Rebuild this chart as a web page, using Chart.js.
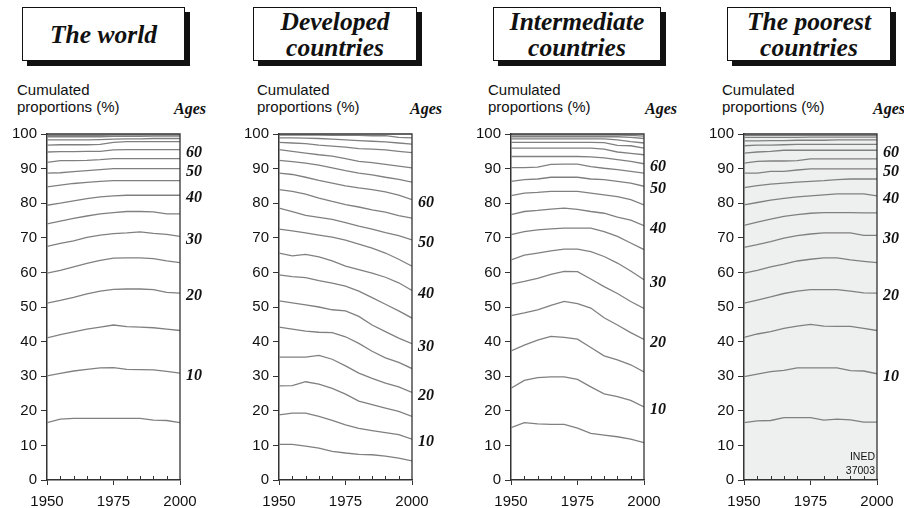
<!DOCTYPE html>
<html>
<head>
<meta charset="utf-8">
<script src="https://cdn.jsdelivr.net/npm/chart.js@4"></script>
<style>
  body{margin:0;width:904px;height:508px;background:#fff;position:relative;overflow:hidden;font-family:"Liberation Sans",Arial,sans-serif;color:#111}
  .box{position:absolute;top:7px;height:54px;border:1px solid #111;background:#fff;box-shadow:5px 5px 0 #111;
       font:italic bold 25.5px "Liberation Serif","Times New Roman",serif;line-height:26px;text-align:center;padding-top:2px;
       display:flex;align-items:center;justify-content:center;box-sizing:border-box}
  .ylab{position:absolute;top:82px;font-size:15px;line-height:16.5px}
  .ages{position:absolute;top:100px;font:italic bold 16px "Liberation Serif","Times New Roman",serif}
  canvas{position:absolute;top:120px}
</style>
</head>
<body>
<div class="box" style="left:22px;width:163px">The world</div>
<div class="box" style="left:253px;width:164px">Developed<br>countries</div>
<div class="box" style="left:493px;width:168px">Intermediate<br>countries</div>
<div class="box" style="left:727px;width:164px">The poorest<br>countries</div>

<div class="ylab" style="left:17px">Cumulated<br>proportions (%)</div>
<div class="ylab" style="left:257px">Cumulated<br>proportions (%)</div>
<div class="ylab" style="left:488px">Cumulated<br>proportions (%)</div>
<div class="ylab" style="left:722px">Cumulated<br>proportions (%)</div>

<div class="ages" style="left:174px">Ages</div>
<div class="ages" style="left:410px">Ages</div>
<div class="ages" style="left:645px">Ages</div>
<div class="ages" style="left:873px">Ages</div>

<canvas id="c1" width="220" height="388" style="left:0px"></canvas>
<canvas id="c2" width="220" height="388" style="left:232px"></canvas>
<canvas id="c3" width="220" height="388" style="left:464px"></canvas>
<canvas id="c4" width="220" height="388" style="left:697px"></canvas>

<script>
// years of observation
const years = [1950, 1955, 1960, 1965, 1970, 1975, 1980, 1985, 1990, 1995, 2000];
const xTicks = [1950, 1975, 2000];
const ageLabels = [10, 20, 30, 40, 50, 60];

// cumulated proportions (%) below ages 5, 10, 15 ... (one row per age)
const world = [
  [16.6, 17.6, 17.8, 17.8, 17.8, 17.8, 17.8, 17.8, 17.3, 17.2, 16.6],
  [30.1, 30.8, 31.5, 32.0, 32.4, 32.5, 32.0, 31.9, 31.8, 31.4, 30.9],
  [41.1, 42.0, 42.8, 43.6, 44.2, 44.8, 44.3, 44.2, 44.0, 43.6, 43.2],
  [51.1, 51.9, 52.8, 53.8, 54.6, 55.1, 55.2, 55.2, 55.0, 54.2, 54.0],
  [59.8, 60.6, 61.6, 62.6, 63.5, 64.1, 64.2, 64.2, 64.0, 63.3, 62.8],
  [67.5, 68.4, 69.1, 70.1, 70.8, 71.2, 71.4, 71.7, 71.3, 71.0, 70.4],
  [74.0, 74.8, 75.6, 76.3, 76.9, 77.3, 77.6, 77.6, 77.5, 76.9, 76.9],
  [79.4, 80.0, 80.7, 81.3, 81.8, 82.1, 82.3, 82.3, 82.3, 82.3, 82.3],
  [84.7, 85.2, 85.7, 86.0, 86.3, 86.5, 86.5, 86.5, 86.5, 86.5, 86.5],
  [88.7, 88.8, 89.1, 89.4, 89.7, 90.0, 90.0, 90.0, 90.0, 90.0, 90.0],
  [91.8, 92.3, 92.3, 92.4, 92.6, 92.9, 92.9, 92.9, 92.9, 92.9, 92.9],
  [94.8, 94.9, 94.9, 95.0, 95.0, 95.4, 95.5, 95.5, 95.5, 95.5, 95.5],
  [96.8, 96.9, 96.9, 96.9, 97.0, 97.6, 97.8, 97.8, 97.8, 97.8, 97.8],
  [98.3, 98.3, 98.3, 98.3, 98.4, 98.5, 98.6, 98.6, 98.7, 98.7, 98.7],
  [99.2, 99.2, 99.2, 99.2, 99.2, 99.3, 99.3, 99.3, 99.4, 99.4, 99.4],
  [99.6, 99.6, 99.6, 99.6, 99.6, 99.7, 99.7, 99.7, 99.7, 99.7, 99.7]
];

const developed = [
  [10.3, 10.3, 9.8, 9.2, 8.3, 7.8, 7.4, 7.3, 6.9, 6.3, 5.5],
  [18.8, 19.3, 19.3, 18.4, 17.2, 15.9, 14.9, 14.3, 13.7, 13.1, 11.8],
  [27.2, 27.3, 28.4, 27.7, 26.5, 24.8, 22.8, 21.8, 20.8, 19.8, 18.4],
  [35.5, 35.5, 35.5, 36.0, 34.9, 33.0, 30.9, 29.4, 28.0, 26.9, 25.3],
  [44.2, 43.6, 43.0, 42.7, 42.6, 41.4, 39.5, 37.2, 35.3, 34.0, 32.2],
  [51.8, 51.2, 50.6, 50.0, 49.2, 48.9, 47.3, 44.8, 42.9, 41.0, 39.4],
  [59.3, 58.8, 58.5, 57.6, 56.9, 56.0, 54.6, 52.7, 50.8, 48.9, 46.8],
  [65.6, 64.8, 65.2, 64.5, 63.3, 61.8, 60.8, 59.8, 58.6, 57.0, 54.8],
  [72.5, 72.0, 71.4, 70.8, 70.2, 69.3, 68.2, 67.0, 65.6, 63.8, 61.8],
  [78.6, 77.6, 76.5, 75.9, 75.3, 74.4, 73.4, 72.5, 71.5, 70.6, 69.4],
  [83.9, 83.4, 82.6, 81.5, 80.5, 79.6, 78.9, 78.1, 77.4, 76.4, 75.7],
  [88.7, 88.3, 87.5, 86.6, 85.8, 85.0, 84.4, 83.9, 83.3, 82.3, 81.0],
  [92.4, 92.0, 91.6, 91.0, 90.2, 89.4, 88.7, 88.2, 87.5, 86.9, 86.1],
  [95.5, 95.0, 94.5, 94.0, 93.6, 92.9, 92.1, 91.7, 91.2, 90.7, 90.2],
  [97.6, 97.4, 97.2, 96.8, 96.5, 96.2, 95.8, 95.6, 95.4, 95.0, 94.6],
  [98.9, 98.9, 98.8, 98.7, 98.5, 98.3, 98.1, 97.9, 97.7, 97.4, 97.1],
  [99.7, 99.7, 99.7, 99.7, 99.6, 99.6, 99.6, 99.5, 99.5, 99.0, 98.9]
];

const intermediate = [
  [15.1, 16.6, 16.2, 16.1, 16.1, 15.0, 13.5, 13.0, 12.5, 11.8, 10.8],
  [26.5, 28.8, 29.6, 29.8, 29.8, 29.1, 26.9, 24.9, 24.1, 23.0, 21.1],
  [37.3, 39.0, 40.4, 41.5, 41.2, 40.7, 38.3, 35.9, 34.7, 33.3, 31.2],
  [47.5, 48.3, 49.2, 50.5, 51.6, 51.0, 49.7, 46.9, 44.8, 42.6, 40.6],
  [56.6, 57.4, 58.3, 59.4, 60.3, 60.2, 58.1, 55.9, 53.9, 51.6, 49.6],
  [63.6, 65.0, 65.6, 66.2, 66.7, 66.7, 66.0, 64.6, 62.7, 60.4, 57.9],
  [70.9, 71.8, 72.3, 72.6, 72.8, 72.8, 72.8, 71.8, 70.4, 68.5, 66.6],
  [76.7, 77.6, 77.9, 78.3, 78.6, 78.2, 77.6, 77.1, 76.0, 75.1, 73.5],
  [82.2, 82.9, 83.1, 83.4, 83.4, 83.4, 82.9, 82.4, 81.9, 81.0, 79.5],
  [86.3, 86.8, 87.0, 87.5, 87.5, 87.5, 87.0, 86.8, 86.3, 85.8, 84.9],
  [90.3, 90.3, 90.4, 91.2, 91.3, 91.3, 90.6, 90.1, 89.7, 89.2, 88.7],
  [93.5, 93.5, 93.5, 93.5, 93.5, 93.5, 93.4, 93.1, 92.6, 92.1, 91.4],
  [95.9, 95.9, 95.9, 95.9, 95.9, 95.9, 95.9, 95.6, 94.8, 94.4, 94.0],
  [97.6, 97.6, 97.6, 97.6, 97.6, 97.6, 97.6, 97.5, 96.7, 96.6, 95.9],
  [98.6, 98.6, 98.6, 98.6, 98.6, 98.6, 98.6, 98.6, 98.3, 97.8, 97.4],
  [99.2, 99.2, 99.2, 99.2, 99.2, 99.2, 99.2, 99.2, 99.2, 99.0, 98.7],
  [99.7, 99.7, 99.7, 99.7, 99.7, 99.7, 99.7, 99.7, 99.7, 99.6, 99.4]
];

const poorest = [
  [16.6, 17.1, 17.2, 18.0, 18.0, 18.0, 17.3, 17.6, 17.4, 16.7, 16.7],
  [29.9, 30.6, 31.3, 31.7, 32.4, 32.4, 32.4, 32.4, 31.6, 31.5, 30.7],
  [41.2, 42.2, 42.9, 43.8, 44.5, 45.0, 44.5, 44.4, 44.4, 43.8, 43.2],
  [51.1, 52.0, 52.9, 53.9, 54.6, 55.0, 55.0, 55.0, 54.6, 54.1, 54.0],
  [59.8, 60.6, 61.6, 62.4, 63.3, 63.8, 64.2, 64.2, 63.6, 63.2, 62.8],
  [67.2, 68.0, 68.9, 69.9, 70.6, 71.1, 71.4, 71.4, 71.4, 70.7, 70.7],
  [73.6, 74.5, 75.4, 76.2, 76.7, 77.1, 77.3, 77.3, 77.3, 77.2, 77.2],
  [79.5, 80.2, 80.9, 81.4, 81.8, 82.1, 82.4, 82.7, 82.7, 82.7, 82.1],
  [84.5, 85.1, 85.5, 85.8, 86.1, 86.3, 86.5, 86.8, 87.0, 87.0, 87.0],
  [88.7, 88.7, 89.2, 89.2, 89.6, 89.9, 89.9, 89.9, 89.9, 89.9, 89.9],
  [91.6, 92.1, 92.2, 92.2, 92.3, 92.8, 92.8, 92.8, 92.8, 92.8, 92.8],
  [94.5, 94.8, 95.0, 95.3, 95.3, 95.3, 95.3, 95.3, 95.3, 95.3, 95.3],
  [96.6, 96.8, 96.8, 96.9, 97.0, 97.0, 97.0, 97.0, 97.0, 97.0, 97.0],
  [98.0, 98.0, 98.1, 98.1, 98.2, 98.2, 98.2, 98.3, 98.3, 98.3, 98.3],
  [99.0, 99.0, 99.0, 99.0, 99.0, 99.1, 99.1, 99.1, 99.1, 99.1, 99.1],
  [99.6, 99.6, 99.6, 99.6, 99.6, 99.6, 99.6, 99.6, 99.6, 99.6, 99.6]
];

const AXIS = '#333';
const LINE = '#808080';
const SANS = '"Liberation Sans", Arial, sans-serif';
const SERIF = '"Liberation Serif", "Times New Roman", serif';

// frame, minor ticks, age labels, INED mark
const extras = {
  id: 'extras',
  beforeDraw(chart, args, o){
    if(!o.fill) return;
    const {ctx, chartArea:a} = chart;
    ctx.save();
    ctx.fillStyle = o.fill;
    ctx.fillRect(a.left, a.top, a.right - a.left, a.bottom - a.top);
    ctx.restore();
  },
  afterDraw(chart, args, o){
    const {ctx, chartArea:a, scales:{x, y}} = chart;
    ctx.save();
    ctx.strokeStyle = AXIS;
    ctx.lineWidth = 1.3;
    ctx.beginPath();
    ctx.moveTo(a.left, a.top); ctx.lineTo(a.right, a.top); ctx.lineTo(a.right, a.bottom);
    ctx.stroke();
    ctx.lineWidth = 1;
    ctx.beginPath();
    for(let yr = 1955; yr < 2000; yr += 5){
      if(xTicks.includes(yr)) continue;
      const px = Math.round(x.getPixelForValue(yr)) + 0.5;
      ctx.moveTo(px, a.bottom); ctx.lineTo(px, a.bottom - 4);
    }
    ctx.stroke();

    ctx.fillStyle = '#111';
    ctx.font = 'italic bold 16px ' + SERIF;
    ctx.textAlign = 'left';
    ctx.textBaseline = 'middle';
    const rows = o.rows;
    ageLabels.forEach(age => {
      const row = rows[age / 5 - 1];
      const py = y.getPixelForValue(row[row.length - 1]) + 3;
      ctx.fillText(String(age), a.right + 6, py);
    });

    if(o.mark){
      ctx.font = '10.5px ' + SANS;
      ctx.textAlign = 'right';
      ctx.fillText('INED', a.right - 2, a.bottom - 23);
      ctx.fillText('37003', a.right - 2, a.bottom - 9);
    }
    ctx.restore();
  }
};

function panel(id, rows, fill, mark){
  new Chart(document.getElementById(id), {
    type: 'line',
    data: {
      datasets: rows.map(r => ({
        data: r.map((v, i) => ({x: years[i], y: v})),
        borderColor: LINE,
        borderWidth: 1.3,
        pointRadius: 0,
        tension: 0,
        fill: false
      }))
    },
    options: {
      responsive: false,
      animation: false,
      events: [],
      layout: { padding: { top: 14, right: 40, left: 0, bottom: 0 } },
      plugins: {
        legend: { display: false },
        tooltip: { enabled: false },
        extras: { rows, fill, mark }
      },
      scales: {
        x: {
          type: 'linear', min: 1950, max: 2000,
          afterBuildTicks: s => { s.ticks = xTicks.map(v => ({value: v})); },
          ticks: { font: {family: SANS, size: 15}, color: '#111', padding: 8, maxRotation: 0, autoSkip: false,
                   callback: v => String(v) },
          grid: { drawOnChartArea: false, tickLength: 5, color: AXIS, lineWidth: 1 },
          border: { color: AXIS, width: 1.5 },
          afterFit: s => { s.height = 28; }
        },
        y: {
          min: 0, max: 100,
          ticks: { stepSize: 10, font: {family: SANS, size: 15}, color: '#111', padding: 4 },
          grid: { drawOnChartArea: false, tickLength: 6, color: AXIS, lineWidth: 1 },
          border: { color: AXIS, width: 1.5 },
          afterFit: s => { s.width = 47; }
        }
      }
    },
    plugins: [extras]
  });
}

panel('c1', world, null, false);
panel('c2', developed, null, false);
panel('c3', intermediate, null, false);
panel('c4', poorest, '#eeefef', true);
</script>
</body>
</html>
